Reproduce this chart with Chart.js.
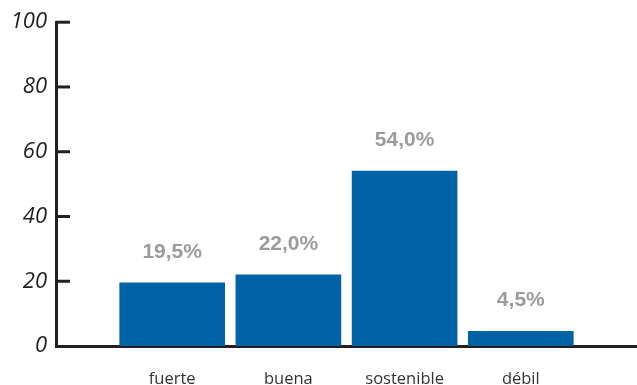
<!DOCTYPE html>
<html lang="es">
<head>
    <meta charset="UTF-8">
    <title>Valoración</title>
    <script src="https://cdn.jsdelivr.net/npm/chart.js"></script>
    <style>
        html, body { margin: 0; padding: 0; background: #fff; }
        .boxGrafico { width: 637px; height: 385px; }
    </style>
</head>
<body>
    <div class="boxGrafico">
        <canvas id="myChartValoracion"></canvas>
    </div>

<script>
    const categorias = ['fuerte', 'buena', 'sostenible', 'débil'];
    const porcentajes = [19.5, 22.0, 54.0, 4.5];
    const ticksY = [0, 20, 40, 60, 80, 100];

    const corBarra = '#0063a6';
    const corEixo = '#231f20';

    // rótulos de porcentagem em cima das barras
    const rotulosPlugin = {
        id: 'rotulos',
        afterDatasetsDraw(chart) {
            const ctx = chart.ctx;
            const meta = chart.getDatasetMeta(0);
            ctx.save();
            ctx.font = 'bold 21px "Liberation Sans", Arial, sans-serif';
            ctx.fillStyle = '#9b9b9b';
            ctx.textAlign = 'center';
            ctx.textBaseline = 'middle';
            meta.data.forEach((bar, i) => {
                const texto = porcentajes[i].toFixed(1).replace('.', ',') + '%';
                ctx.fillText(texto, bar.x, bar.y - 31);
            });
            ctx.restore();
        }
    };

    // marcas do eixo y para dentro do gráfico
    const marcasPlugin = {
        id: 'marcas',
        afterDraw(chart) {
            const ctx = chart.ctx;
            const y = chart.scales.y;
            const x0 = chart.chartArea.left;
            ctx.save();
            ctx.strokeStyle = corEixo;
            ctx.lineWidth = 3;
            ticksY.forEach(v => {
                if (v === 0) return;
                const py = y.getPixelForValue(v);
                ctx.beginPath();
                ctx.moveTo(x0, py);
                ctx.lineTo(x0 + 14, py);
                ctx.stroke();
            });
            ctx.restore();
        }
    };

    const ctxValoracion = document.getElementById('myChartValoracion');

    const myChartValoracion = new Chart(ctxValoracion, {
        type: 'bar',
        data: {
            datasets: [{
                data: porcentajes.map((v, i) => ({ x: i + 1, y: v })),
                backgroundColor: corBarra,
                barThickness: 105
            }]
        },
        options: {
            responsive: true,
            maintainAspectRatio: false,
            animation: false,
            layout: { padding: { top: 22, right: 0, left: 0, bottom: 0 } },
            plugins: {
                legend: { display: false },
                tooltip: { enabled: false }
            },
            scales: {
                x: {
                    type: 'linear',
                    min: 0,
                    max: 5,
                    offset: false,
                    afterFit(scale) {
                        scale.height = 39;
                        scale.paddingRight = 0;
                        scale.paddingLeft = 0;
                    },
                    grid: { display: false, drawTicks: false },
                    border: { display: true, color: corEixo, width: 3 },
                    ticks: {
                        stepSize: 1,
                        padding: 23,
                        autoSkip: false,
                        maxRotation: 0,
                        color: '#333',
                        font: { family: '"Open Sans", sans-serif', size: 16.5 },
                        callback: (v) => categorias[v - 1] || ''
                    }
                },
                y: {
                    min: 0,
                    max: 100,
                    afterFit(scale) { scale.width = 56; },
                    afterBuildTicks(scale) {
                        scale.ticks = ticksY.map(v => ({ value: v }));
                    },
                    grid: { display: false, drawTicks: false },
                    border: { display: true, color: corEixo, width: 3 },
                    ticks: {
                        padding: 9,
                        color: corEixo,
                        font: { family: '"Open Sans", sans-serif', size: 22, style: 'italic' }
                    }
                }
            }
        },
        plugins: [rotulosPlugin, marcasPlugin]
    });
</script>
</body>
</html>
